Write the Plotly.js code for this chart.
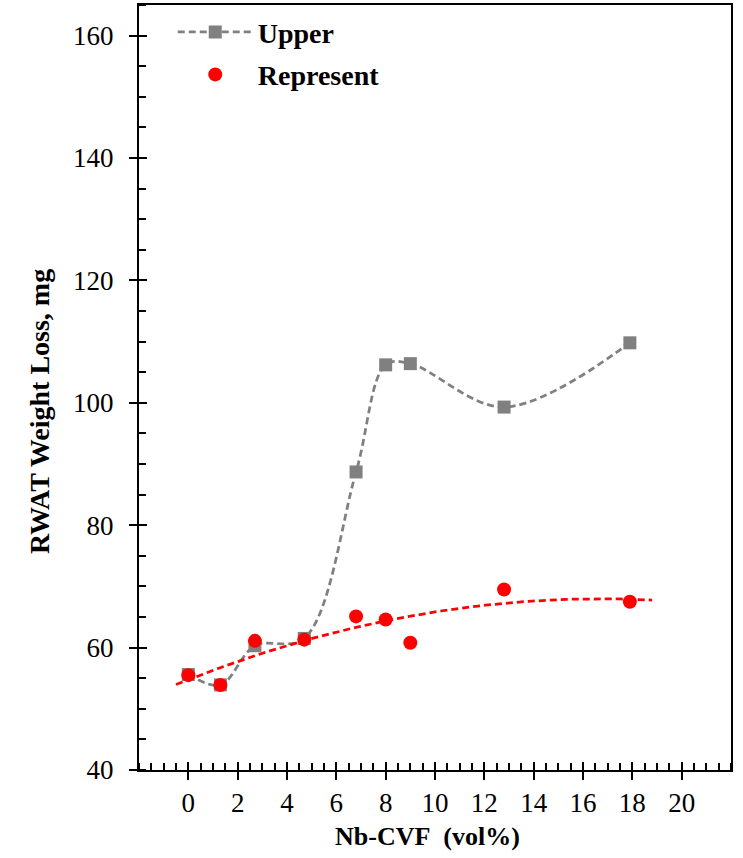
<!DOCTYPE html>
<html>
<head>
<meta charset="utf-8">
<script src="https://cdn.plot.ly/plotly-3.0.1.min.js"></script>
<style>html,body{margin:0;padding:0;background:#fff;}#chart{width:743px;height:858px;}</style>
</head>
<body>
<div id="chart"></div>
<script>
// ---- Data ----
const upperX = [0, 1.3, 2.7, 4.7, 6.8, 8.0, 9.0, 12.8, 17.9];
const upperY = [55.6, 53.9, 60.3, 61.5, 88.7, 106.2, 106.4, 99.3, 109.8];
const representX = [0, 1.3, 2.7, 4.7, 6.8, 8.0, 9.0, 12.8, 17.9];
const representY = [55.5, 53.9, 61.1, 61.3, 65.1, 64.6, 60.8, 69.5, 67.5];
const trendRange = [-0.5, 18.8];
const xTicks = [0, 2, 4, 6, 8, 10, 12, 14, 16, 18, 20];
const yTicks = [40, 60, 80, 100, 120, 140, 160];
const xTitle = 'Nb-CVF\u00a0\u00a0(vol%)';
const yTitle = 'RWAT Weight Loss, mg';

// Second-order polynomial trendline fitted to the "Represent" points
function polyfit2(xs, ys) {
  const S = [0, 0, 0, 0, 0], T = [0, 0, 0];
  for (let i = 0; i < xs.length; i++) {
    let p = 1;
    for (let k = 0; k < 5; k++) { S[k] += p; if (k < 3) T[k] += ys[i] * p; p *= xs[i]; }
  }
  const M = [[S[0], S[1], S[2]], [S[1], S[2], S[3]], [S[2], S[3], S[4]]];
  const det = m => m[0][0]*(m[1][1]*m[2][2]-m[1][2]*m[2][1]) - m[0][1]*(m[1][0]*m[2][2]-m[1][2]*m[2][0]) + m[0][2]*(m[1][0]*m[2][1]-m[1][1]*m[2][0]);
  const D = det(M);
  return [0, 1, 2].map(c => det(M.map((row, r) => row.map((v, j) => j === c ? T[r] : v))) / D);
}
const coef = polyfit2(representX, representY);
const trendX = [], trendY = [];
for (let i = 0; i <= 100; i++) {
  const x = trendRange[0] + (trendRange[1] - trendRange[0]) * i / 100;
  trendX.push(x);
  trendY.push(coef[0] + coef[1] * x + coef[2] * x * x);
}

const FONT = 'Liberation Serif, Times New Roman, serif';

const traces = [
  {
    x: upperX, y: upperY, name: '<b>Upper</b>', type: 'scatter', mode: 'lines+markers',
    line: {color: '#808080', width: 2.75, dash: '7px,4px', shape: 'spline', smoothing: 1},
    marker: {symbol: 'square', size: 13, color: '#808080'},
    legendgroup: 'a'
  },
  {
    x: trendX, y: trendY, name: 'trend', type: 'scatter', mode: 'lines',
    line: {color: '#ff0000', width: 2.75, dash: '7px,4px'},
    showlegend: false, hoverinfo: 'skip'
  },
  {
    x: representX, y: representY, name: '<b>Represent</b>', type: 'scatter', mode: 'markers',
    marker: {symbol: 'circle', size: 14, color: '#ff0000'},
    legendgroup: 'b'
  },
  {x: [0], y: [50], xaxis: 'x2', yaxis: 'y2', mode: 'markers', marker: {opacity: 0}, showlegend: false, hoverinfo: 'skip'}
];

const layout = {
  width: 743, height: 858,
  margin: {l: 139, r: 12, t: 5, b: 88, pad: 0},
  paper_bgcolor: '#ffffff', plot_bgcolor: '#ffffff',
  font: {family: FONT, color: '#000000', size: 26},
  showlegend: true,
  legend: {
    x: 0.057, y: 0.997, xanchor: 'left', yanchor: 'top',
    bgcolor: 'rgba(0,0,0,0)', font: {family: FONT, size: 28, color: '#000'},
    traceorder: 'grouped', tracegroupgap: 3, itemwidth: 75
  },
  xaxis: {
    range: [-2, 22], tickvals: xTicks, ticktext: xTicks.map(String),
    ticks: 'outside', ticklen: 8, tickwidth: 2, tickcolor: '#000',
    showline: true, linewidth: 2, linecolor: '#000', mirror: true,
    showgrid: false, zeroline: false,
    tickfont: {family: FONT, size: 27, color: '#000'},
    minor: {dtick: 0.5, tick0: 0, ticks: 'inside', ticklen: 7, tickwidth: 2, tickcolor: '#000', showgrid: false},
    automargin: false
  },
  yaxis: {
    range: [40, 165], tickvals: yTicks, ticktext: yTicks.map(String),
    ticks: 'outside', ticklen: 8, tickwidth: 2, tickcolor: '#000',
    showline: true, linewidth: 2, linecolor: '#000', mirror: true,
    showgrid: false, zeroline: false,
    ticklabelstandoff: 10,
    tickfont: {family: FONT, size: 27, color: '#000'},
    minor: {dtick: 5, tick0: 0, ticks: 'inside', ticklen: 7, tickwidth: 2, tickcolor: '#000', showgrid: false},
    automargin: false
  },
  xaxis2: {
    overlaying: 'x', anchor: 'y2', side: 'bottom', range: [-2, 22], tickvals: xTicks,
    ticks: 'inside', ticklen: 8, tickwidth: 2, tickcolor: '#000',
    showticklabels: false, showline: false, showgrid: false, zeroline: false
  },
  yaxis2: {
    overlaying: 'y', anchor: 'x2', side: 'left', range: [40, 165], tickvals: yTicks,
    ticks: 'inside', ticklen: 8, tickwidth: 2, tickcolor: '#000',
    showticklabels: false, showline: false, showgrid: false, zeroline: false
  },
  annotations: [
    {text: '<b>' + xTitle + '</b>', xref: 'paper', yref: 'paper', x: 0.4867, y: -0.0863,
     xanchor: 'center', yanchor: 'middle', showarrow: false,
     font: {family: FONT, size: 26, color: '#000'}},
    {text: '<b>' + yTitle + '</b>', xref: 'paper', yref: 'paper', x: -0.167, y: 0.468,
     xanchor: 'center', yanchor: 'middle', showarrow: false, textangle: -90,
     font: {family: FONT, size: 28, color: '#000'}}
  ]
};

Plotly.newPlot('chart', traces, layout, {displayModeBar: false, staticPlot: true});
</script>
</body>
</html>
